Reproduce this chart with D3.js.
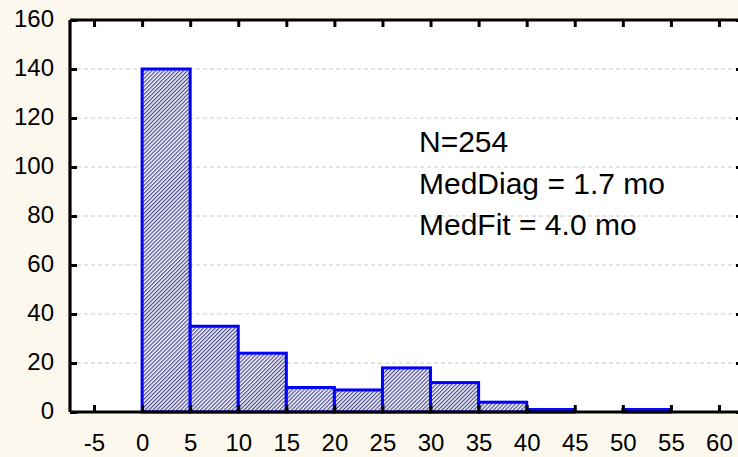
<!DOCTYPE html>
<html>
<head>
<meta charset="utf-8">
<script src="https://cdn.jsdelivr.net/npm/d3@7"></script>
<style>
  html, body { margin: 0; padding: 0; background: #fdf8ed; }
  svg { display: block; }
  text { font-family: "Liberation Sans", Arial, sans-serif; fill: #000; }
</style>
</head>
<body>
<svg id="chart" width="738" height="457"></svg>
<script>
// ---- data ----
const binStarts = [-5, 0, 5, 10, 15, 20, 25, 30, 35, 40, 45, 50, 55];
const binWidth = 5;
const counts    = [0, 140, 35, 24, 10, 9, 18, 12, 4, 1, 0, 1, 0];
const xTicks = [-5, 0, 5, 10, 15, 20, 25, 30, 35, 40, 45, 50, 55, 60];
const yTicks = [0, 20, 40, 60, 80, 100, 120, 140, 160];
const annotations = ["N=254", "MedDiag = 1.7 mo", "MedFit = 4.0 mo"];

(function () {
// ---- layout ----
const pL = 70, pR = 743, pT = 20, pB = 412;

const svg = d3.select("#chart");
const x = d3.scaleLinear().domain([-7.5, 62.5]).range([pL, pR]);
const y = d3.scaleLinear().domain([0, 160]).range([pB, pT]);

// hatch pattern
const defs = svg.append("defs");
const pat = defs.append("pattern")
  .attr("id", "hatch").attr("patternUnits", "userSpaceOnUse")
  .attr("width", 2.8).attr("height", 4)
  .attr("patternTransform", "rotate(45)");
pat.append("rect").attr("width", 2.8).attr("height", 4).attr("fill", "#ececf8");
pat.append("rect").attr("x", 0).attr("y", 0).attr("width", 1.1).attr("height", 4).attr("fill", "#4a4a88");

// plot background
svg.append("rect").attr("x", pL).attr("y", pT)
  .attr("width", pR - pL).attr("height", pB - pT).attr("fill", "#fff");

// gridlines
svg.append("g").selectAll("line")
  .data(yTicks.filter(d => d > 0 && d < 160))
  .join("line")
  .attr("x1", pL).attr("x2", pR)
  .attr("y1", d => y(d)).attr("y2", d => y(d))
  .attr("stroke", "#c8c8c8").attr("stroke-width", 1)
  .attr("stroke-dasharray", "4,3");

// bars
const bins = binStarts.map((s, i) => ({ x0: s, x1: s + binWidth, n: counts[i] }));
svg.append("g").selectAll("rect")
  .data(bins)
  .join("rect")
  .attr("x", d => x(d.x0))
  .attr("width", d => x(d.x1) - x(d.x0))
  .attr("y", d => y(d.n))
  .attr("height", d => y(0) - y(d.n))
  .attr("fill", "url(#hatch)")
  .attr("stroke", "#0000ff")
  .attr("stroke-width", 3);

// axes (frame + inward ticks)
const tickLen = 7;
const fmt = d => String(d);
const axB = d3.axisBottom(x).tickValues(xTicks).tickSize(-tickLen).tickPadding(22).tickFormat(fmt);
const axT = d3.axisTop(x).tickValues(xTicks).tickSize(-tickLen).tickFormat("");
const axL = d3.axisLeft(y).tickValues(yTicks).tickSize(-tickLen).tickPadding(16).tickFormat(fmt);
const axR = d3.axisRight(y).tickValues(yTicks).tickSize(-tickLen).tickFormat("");

function styleAxis(g) {
  g.select(".domain").attr("stroke", "#000").attr("stroke-width", 3.2);
  g.selectAll(".tick line").attr("stroke", "#000").attr("stroke-width", 3);
  g.selectAll(".tick text").attr("font-size", 24).attr("font-family", "Liberation Sans, Arial, sans-serif").attr("fill", "#000");
}

svg.append("g").attr("transform", `translate(0,${pB})`).call(axB).call(styleAxis)
  .call(g => g.select(".domain").attr("d", `M${pL},0H${pR}`));
svg.append("g").attr("transform", `translate(0,${pT})`).call(axT).call(styleAxis)
  .call(g => g.select(".domain").attr("d", `M${pL},0H${pR}`));
svg.append("g").attr("transform", `translate(${pL},0)`).call(axL).call(styleAxis)
  .call(g => g.select(".domain").attr("d", `M0,${pT}V${pB}`))
  .call(g => g.selectAll(".tick text").attr("dy", "0.25em"));
svg.append("g").attr("transform", `translate(${pR},0)`).call(axR).call(styleAxis)
  .call(g => g.select(".domain").attr("d", `M0,${pT}V${pB}`));

// annotation
svg.append("g").selectAll("text")
  .data(annotations)
  .join("text")
  .attr("x", 419)
  .attr("y", (d, i) => 152 + i * 41.7)
  .attr("font-size", 30)
  .text(d => d);
})();
</script>
</body>
</html>
